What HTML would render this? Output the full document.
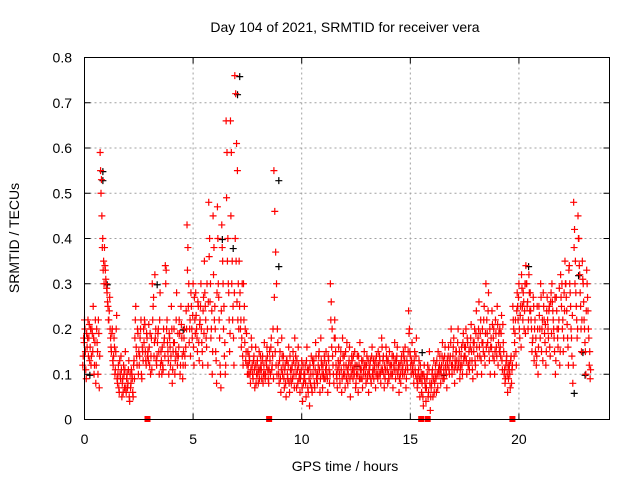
<!DOCTYPE html>
<html><head><meta charset="utf-8"><style>
html,body{margin:0;padding:0;background:#fff;}
svg{display:block;font-family:"Liberation Sans",sans-serif;}
</style></head><body>
<svg id="chart" width="640" height="480" viewBox="0 0 640 480" xmlns="http://www.w3.org/2000/svg">
<rect width="640" height="480" fill="#fff"/>
<text x="345" y="32" font-size="14" text-anchor="middle">Day 104 of 2021, SRMTID for receiver vera</text>
<text x="0" y="0" font-size="14" text-anchor="middle" transform="translate(19,238) rotate(-90)">SRMTID / TECUs</text>
<text x="345" y="471" font-size="14" text-anchor="middle">GPS time / hours</text>
<g id="grid"></g><g id="ticks"></g><g id="black"></g><g id="red"></g>
<rect x="84.5" y="57.5" width="525" height="362" fill="none" stroke="#000" stroke-width="1"/>
</svg>
<script>
const xTicks=[0,5,10,15,20];
const yTicks=[0,0.1,0.2,0.3,0.4,0.5,0.6,0.7,0.8];
const yTickLabels=["0","0.1","0.2","0.3","0.4","0.5","0.6","0.7","0.8"];
const binStart=0, binStep=0.2;
const redBins=[
[.12,.18,.22,.15,.09],[.16,.22,.18,.13,.2],[.14,.19,.25,.1,.17],[.08,.2,.15,.22,.07],[.59,.5,.45,.4,.35],
[.38,.33,.3,.28,.25],[.22,.27,.18,.15,.2],[.12,.18,.1,.15,.23],[.08,.12,.06,.1,.14],[.05,.09,.12,.07,.15],
[.06,.1,.08,.13,.04],[.07,.11,.09,.05,.13],[.18,.25,.14,.2,.1],[.12,.18,.22,.09,.15],[.2,.22,.15,.12,.18],
[.15,.21,.12,.1,.18],[.3,.25,.14,.32,.2],[.12,.17,.2,.1,.28],[.15,.1,.12,.2,.18],[.34,.33,.22,.15,.1],
[.18,.12,.25,.08,.15],[.2,.1,.15,.28,.12],[.14,.22,.1,.25,.18],[.09,.15,.2,.12,.24],[.43,.38,.3,.2,.14],
[.25,.18,.3,.12,.22],[.28,.2,.15,.25,.13],[.22,.3,.17,.12,.27],[.35,.25,.18,.3,.12],[.48,.4,.3,.2,.1],
[.45,.38,.25,.15,.08],[.47,.3,.22,.12,.07],[.43,.35,.2,.14,.1],[.66,.59,.4,.28,.15],[.66,.59,.35,.25,.12],
[.76,.72,.61,.55,.3],[.35,.28,.22,.18,.14],[.3,.25,.2,.15,.12],[.15,.1,.13,.08,.18],[.12,.09,.14,.07,.16],
[.1,.13,.08,.15,.11],[.12,.09,.14,.1,.17],[.09,.13,.16,.11,.08],[.15,.1,.18,.12,.2],[.55,.46,.37,.3,.2],
[.12,.08,.15,.06,.18],[.1,.14,.07,.12,.05],[.13,.09,.16,.06,.11],[.08,.12,.15,.1,.18],[.14,.07,.11,.16,.09],
[.06,.1,.13,.04,.08],[.09,.12,.05,.16,.07],[.11,.03,.08,.14,.06],[.1,.13,.07,.17,.09],[.08,.12,.15,.06,.18],
[.12,.07,.1,.14,.09],[.15,.1,.06,.13,.08],[.3,.26,.2,.12,.08],[.22,.15,.1,.07,.13],[.12,.08,.15,.06,.18],
[.1,.14,.07,.12,.17],[.08,.12,.16,.05,.1],[.13,.09,.11,.15,.07],[.1,.14,.06,.12,.17],[.09,.13,.07,.11,.15],
[.12,.08,.14,.1,.06],[.1,.13,.08,.16,.11],[.09,.12,.07,.14,.1],[.15,.1,.13,.08,.18],[.11,.14,.07,.09,.16],
[.13,.08,.1,.15,.12],[.1,.14,.07,.12,.17],[.09,.13,.16,.11,.06],[.12,.08,.14,.1,.15],[.1,.16,.07,.13,.11],
[.24,.2,.14,.1,.17],[.12,.08,.15,.1,.18],[.07,.1,.13,.05,.09],[.06,.1,.03,.12,.08],[.04,.09,.12,.06,.15],
[.02,.07,.1,.05,.13],[.08,.12,.06,.1,.15],[.1,.14,.08,.12,.17],[.13,.09,.16,.11,.07],[.12,.16,.1,.14,.2],
[.1,.14,.18,.08,.12],[.15,.11,.2,.13,.09],[.12,.16,.1,.19,.14],[.14,.2,.1,.17,.12],[.11,.16,.21,.13,.09],
[.15,.2,.12,.24,.1],[.18,.26,.14,.22,.1],[.2,.15,.25,.12,.3],[.22,.17,.28,.13,.1],[.18,.24,.14,.2,.1],
[.22,.16,.25,.12,.19],[.2,.14,.23,.11,.17],[.1,.08,.12,.14,.06],[.09,.12,.07,.14,.11],[.25,.2,.17,.22,.12],
[.28,.22,.3,.18,.25],[.32,.25,.28,.2,.3],[.34,.3,.26,.22,.28],[.28,.22,.15,.18,.25],[.2,.15,.12,.25,.1],
[.25,.2,.3,.15,.22],[.28,.22,.17,.12,.24],[.22,.18,.25,.14,.28],[.3,.24,.2,.15,.1],[.27,.2,.16,.22,.12],
[.32,.25,.2,.15,.28],[.35,.3,.24,.18,.12],[.34,.28,.2,.14,.08],[.48,.42,.35,.25,.18],[.45,.4,.32,.25,.15],
[.35,.3,.22,.17,.1],[.33,.27,.2,.12,.09]
];
const redBins2=[
[.14,.17,.2,.11,.19],[.18,.14,.21,.16,.12],[.2,.15,.18,.12,.22],[.12,.17,.1,.19,.14],[.55,.53,.38,.33,.3],
[.34,.31,.29,.26,.22],[.24,.2,.16,.19,.13],[.14,.16,.11,.2,.09],[.1,.07,.13,.09,.11],[.08,.06,.1,.11,.07],
[.09,.07,.11,.05,.1],[.08,.1,.06,.12,.09],[.22,.16,.12,.19,.15],[.14,.2,.1,.16,.13],[.17,.21,.13,.19,.14],
[.13,.16,.19,.14,.11],[.22,.27,.17,.18,.13],[.14,.19,.15,.22,.12],[.13,.16,.11,.17,.14],[.3,.2,.17,.13,.19],
[.16,.14,.2,.11,.17],[.17,.13,.22,.14,.19],[.16,.19,.12,.21,.14],[.12,.18,.14,.16,.2],[.33,.25,.17,.22,.28],
[.2,.23,.16,.27,.19],[.23,.18,.26,.17,.21],[.25,.2,.15,.24,.19],[.28,.22,.16,.2,.26],[.36,.26,.18,.24,.15],
[.32,.22,.2,.13,.28],[.4,.27,.18,.1,.24],[.38,.3,.25,.17,.12],[.49,.35,.3,.22,.19],[.45,.3,.22,.18,.28],
[.4,.35,.26,.22,.2],[.25,.2,.16,.3,.12],[.22,.17,.13,.19,.1],[.12,.14,.1,.11,.16],[.1,.13,.11,.12,.08],
[.12,.1,.11,.09,.14],[.11,.13,.08,.12,.1],[.1,.12,.14,.09,.11],[.13,.16,.11,.14,.09],[.27,.15,.12,.1,.17],
[.1,.13,.09,.11,.14],[.12,.09,.11,.08,.13],[.1,.12,.08,.14,.09],[.11,.09,.13,.07,.12],[.1,.13,.08,.12,.1],
[.09,.11,.07,.12,.1],[.1,.08,.13,.11,.06],[.09,.12,.1,.07,.13],[.12,.08,.11,.14,.1],[.1,.14,.11,.09,.13],
[.1,.12,.09,.13,.11],[.12,.09,.14,.11,.1],[.22,.16,.14,.1,.18],[.18,.12,.09,.11,.16],[.1,.13,.11,.09,.14],
[.12,.1,.15,.09,.11],[.1,.13,.09,.12,.14],[.11,.14,.1,.12,.08],[.12,.1,.14,.09,.11],[.11,.09,.13,.1,.12],
[.1,.12,.09,.13,.11],[.12,.09,.14,.1,.13],[.11,.13,.1,.12,.09],[.12,.14,.1,.11,.16],[.13,.1,.12,.11,.14],
[.11,.13,.09,.12,.1],[.12,.1,.14,.11,.13],[.11,.14,.1,.12,.09],[.1,.13,.11,.12,.14],[.13,.11,.09,.12,.15],
[.19,.15,.12,.13,.11],[.1,.13,.11,.14,.09],[.08,.11,.09,.12,.1],[.08,.05,.1,.09,.07],[.07,.1,.05,.11,.08],
[.05,.08,.11,.09,.06],[.1,.09,.13,.07,.11],[.12,.11,.1,.14,.09],[.11,.14,.12,.1,.13],[.14,.11,.13,.17,.12],
[.12,.16,.11,.13,.15],[.13,.17,.12,.15,.11],[.14,.12,.17,.13,.16],[.16,.13,.18,.12,.15],[.13,.18,.15,.11,.17],
[.17,.13,.19,.16,.14],[.2,.16,.19,.13,.17],[.17,.22,.14,.19,.16],[.19,.24,.15,.2,.16],[.16,.21,.18,.13,.15],
[.19,.14,.21,.17,.15],[.16,.19,.13,.21,.15],[.11,.09,.13,.1,.12],[.11,.1,.13,.08,.12],[.22,.14,.19,.15,.24],
[.25,.27,.2,.23,.16],[.29,.22,.26,.24,.19],[.3,.25,.2,.32,.24],[.24,.2,.17,.27,.13],[.22,.18,.14,.2,.16],
[.23,.18,.27,.2,.13],[.25,.19,.21,.15,.27],[.2,.24,.16,.26,.19],[.26,.22,.18,.27,.13],[.24,.18,.2,.29,.15],
[.27,.3,.22,.18,.24],[.3,.27,.21,.16,.33],[.3,.25,.18,.23,.12],[.38,.3,.28,.22,.2],[.4,.34,.28,.2,.22],
[.31,.26,.2,.15,.24],[.3,.24,.18,.15,.11]
];
const blackHours=[0.8,0.8,7.1,7.0,8.9,8.9,6.3,6.8,1.0,20.4,22.7,22.9,22.5,23.0,4.5,12.5,15.5,16.5,3.3,0.2];
const blackValues=[0.55,0.53,0.76,0.72,0.53,0.34,0.4,0.38,0.3,0.34,0.32,0.15,0.06,0.1,0.2,0.12,0.15,0.1,0.3,0.1];
const zeroHours=[2.9,8.5,15.5,15.8,19.7];
const jitter=[-0.08,-0.04,0,0.04,0.08];
const jitter2=[-0.06,-0.02,0.02,0.06,0.1];
const X0=84.5,X1=609.5,Y0=419.5,Y1=57.5,XMAX=24.17,YMAX=0.8;
const sx=h=>X0+(X1-X0)*h/XMAX, sy=v=>Y0-(Y0-Y1)*v/YMAX;
const NS='http://www.w3.org/2000/svg';
function mk(tag,attrs,parent){const e=document.createElementNS(NS,tag);for(const k in attrs)e.setAttribute(k,attrs[k]);parent.appendChild(e);return e;}
const grid=document.getElementById('grid'),ticks=document.getElementById('ticks');
xTicks.forEach(t=>{const x=sx(t);
 if(t>0){const g=mk('line',{x1:x,x2:x,y1:Y1,y2:Y0,stroke:'#a0a0a0','stroke-dasharray':'2,3'},grid);
 
 }
 mk('line',{x1:x,x2:x,y1:Y0,y2:Y0-6,stroke:'#000'},ticks);
 mk('line',{x1:x,x2:x,y1:Y1,y2:Y1+6,stroke:'#000'},ticks);
 const l=mk('text',{x:x,y:444,'font-size':14,'text-anchor':'middle'},ticks);l.textContent=t;
 
 
});
yTicks.forEach((t,i)=>{const y=sy(t);
 if(t>0&&t<YMAX){const g=mk('line',{x1:X0,x2:X1,y1:y,y2:y,stroke:'#a0a0a0','stroke-dasharray':'2,3'},grid);
 
 }
 mk('line',{x1:X0,x2:X0+6,y1:y,y2:y,stroke:'#000'},ticks);
 mk('line',{x1:X1,x2:X1-6,y1:y,y2:y,stroke:'#000'},ticks);
 const l=mk('text',{x:72,y:y+5,'font-size':14,'text-anchor':'end'},ticks);l.textContent=yTickLabels[i];
 
 
});
function plus(x,y,col,parent){return mk('path',{d:`M${x-3.5},${y}h7M${x},${y-3.5}v7`,stroke:col,'stroke-width':1.2,fill:'none'},parent);}
const bg=document.getElementById('black');
blackHours.forEach((h,i)=>{const p=plus(sx(h)+1,sy(blackValues[i])+1,'#000',bg);
 
 });
const rg=document.getElementById('red');
redBins.forEach((vals,b)=>{const h=binStart+b*binStep;
 vals.forEach((v,j)=>{const p=plus(sx(h+jitter[j]),sy(v),'#ff0000',rg);
 
 });});
redBins2.forEach((vals,b)=>{const h=binStart+b*binStep;
 vals.forEach((v,j)=>{const p=plus(sx(h+jitter2[j]),sy(v),'#ff0000',rg);
 
 });});
zeroHours.forEach(h=>{const r=mk('rect',{x:sx(h)-3,y:sy(0)-3.5,width:6,height:6,fill:'#ff0000'},rg);
 
 });
</script>
</body></html>
